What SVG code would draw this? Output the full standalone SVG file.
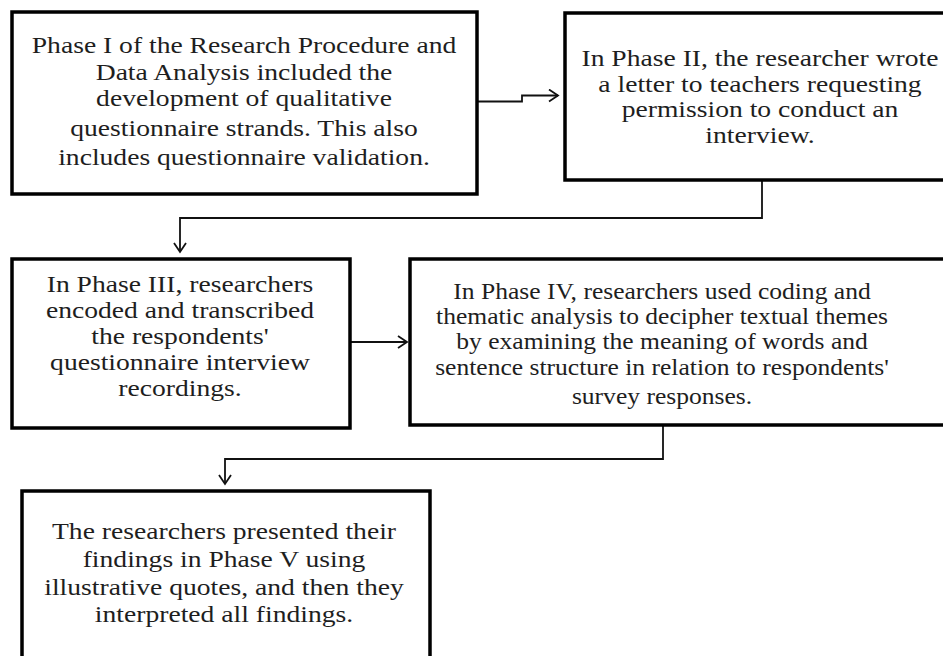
<svg xmlns="http://www.w3.org/2000/svg" width="943" height="656" viewBox="0 0 943 656">
<style>
.box{fill:#fff;stroke:#000;stroke-width:3.5}
.t{font-family:"Liberation Serif","Times New Roman",serif;font-size:24px;fill:#1e1e1e;text-anchor:middle}
.c{fill:none;stroke:#111;stroke-width:1.8}
</style>
<defs>
<marker id="ah" markerWidth="14" markerHeight="14" refX="11" refY="7" orient="auto" markerUnits="userSpaceOnUse">
<polyline points="2,1 11,7 2,13" fill="none" stroke="#111" stroke-width="1.8"/>
</marker>
</defs>
<rect width="943" height="656" fill="#fff"/>
<g id="connectors">
<polyline class="c" points="478,101.5 522,101.5 522,95.5 558,95.5" marker-end="url(#ah)"/>
<polyline class="c" points="762,180 762,218 180,218 180,252" marker-end="url(#ah)"/>
<polyline class="c" points="350,342 407,342" marker-end="url(#ah)"/>
<polyline class="c" points="663,425 663,459 225,459 225,484" marker-end="url(#ah)"/>
</g>
<g id="phase1">
<rect class="box" x="12" y="12" width="465" height="182"/>
<text class="t" transform="translate(244 0) scale(1.15 1)"><tspan x="0" y="53">Phase I of the Research Procedure and</tspan><tspan x="0" y="80">Data Analysis  included the</tspan><tspan x="0" y="106">development  of qualitative</tspan><tspan x="0" y="136">questionnaire  strands. This also</tspan><tspan x="0" y="165">includes  questionnaire  validation.</tspan></text>
</g>
<g id="phase2">
<rect class="box" x="565" y="13" width="400" height="167"/>
<text class="t" transform="translate(760 0) scale(1.15 1)"><tspan x="0" y="66">In Phase II, the researcher wrote</tspan><tspan x="0" y="92">a letter to teachers requesting</tspan><tspan x="0" y="117">permission  to conduct an</tspan><tspan x="0" y="143">interview.</tspan></text>
</g>
<g id="phase3">
<rect class="box" x="12" y="259" width="338" height="169"/>
<text class="t" transform="translate(180 0) scale(1.15 1)"><tspan x="0" y="292">In Phase III, researchers</tspan><tspan x="0" y="318">encoded and transcribed</tspan><tspan x="0" y="344">the respondents'</tspan><tspan x="0" y="370">questionnaire  interview</tspan><tspan x="0" y="396">recordings.</tspan></text>
</g>
<g id="phase4">
<rect class="box" x="410" y="259" width="560" height="166"/>
<text class="t" transform="translate(662 0) scale(1.065 1)"><tspan x="0" y="299">In Phase IV, researchers used coding  and</tspan><tspan x="0" y="324">thematic  analysis  to decipher textual themes</tspan><tspan x="0" y="349">by examining  the meaning  of words and</tspan><tspan x="0" y="375">sentence structure in relation to respondents'</tspan><tspan x="0" y="404">survey  responses.</tspan></text>
</g>
<g id="phase5">
<rect class="box" x="22" y="491" width="408" height="190"/>
<text class="t" transform="translate(224 0) scale(1.15 1)"><tspan x="0" y="539">The researchers presented their</tspan><tspan x="0" y="567">findings  in Phase V using</tspan><tspan x="0" y="595">illustrative  quotes, and then they</tspan><tspan x="0" y="622">interpreted all  findings.</tspan></text>
</g>
</svg>
